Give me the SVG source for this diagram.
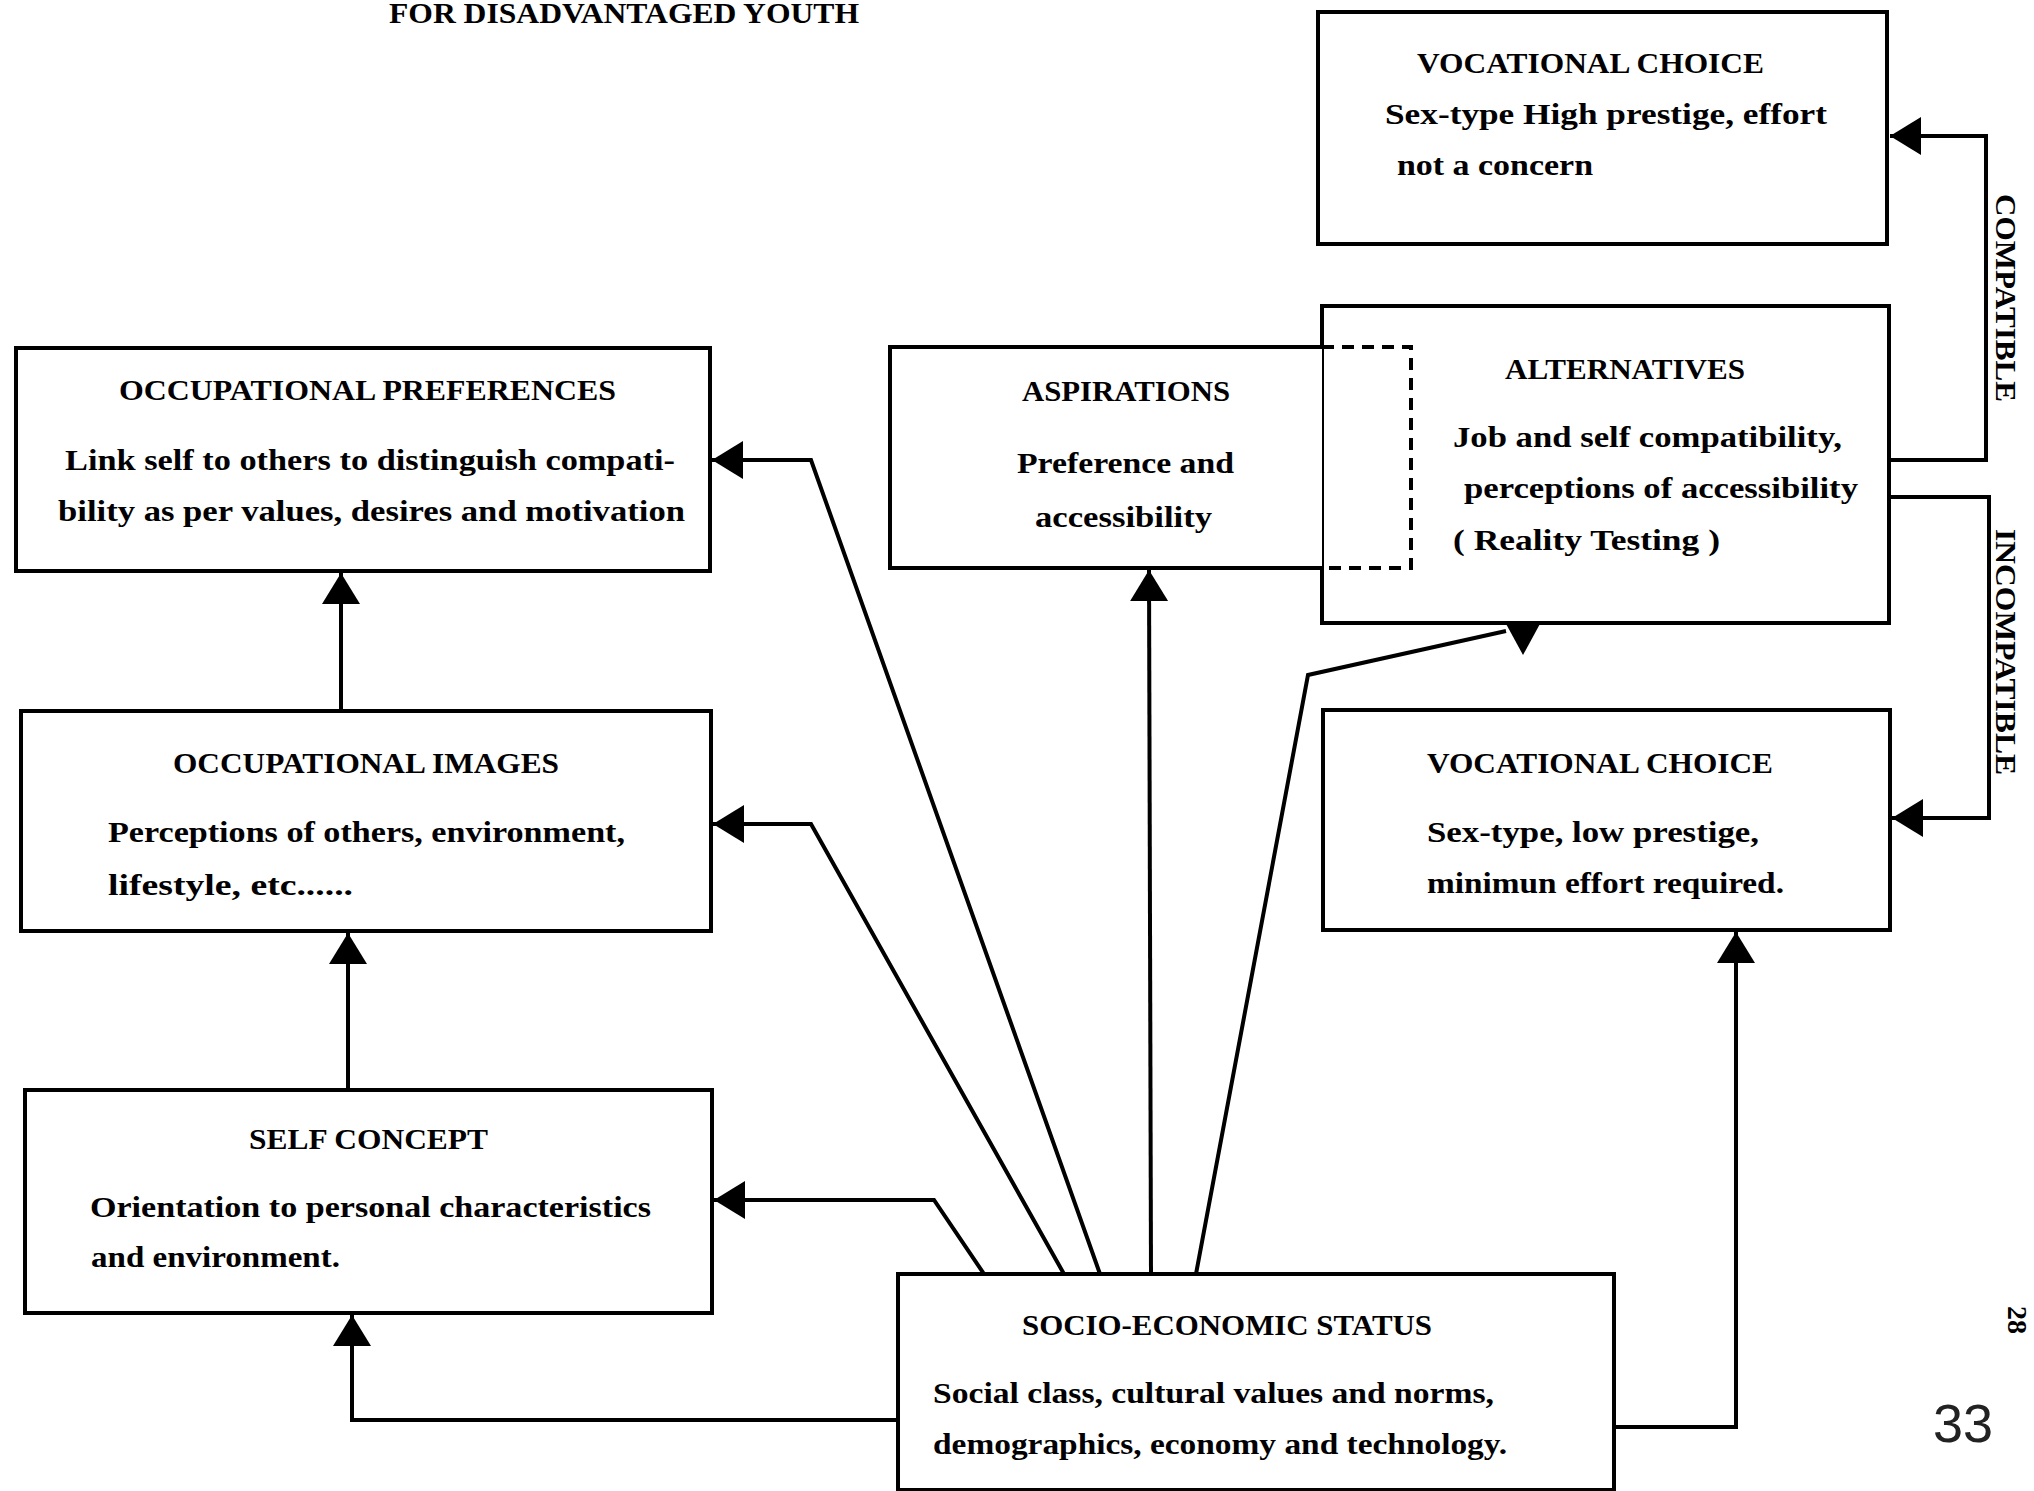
<svg xmlns="http://www.w3.org/2000/svg" width="2034" height="1491" viewBox="0 0 2034 1491">
<style>
.box{fill:#fff;stroke:#000;stroke-width:4}
.edge{fill:none;stroke:#000;stroke-width:4;stroke-linejoin:miter}
.dash{fill:none;stroke:#000;stroke-width:4;stroke-dasharray:12 8}
text{font-family:"Liberation Serif","DejaVu Serif",serif;font-weight:bold;fill:#000}
.h{font-size:29px}
.b{font-size:29px}
.lab{font-size:30px}
</style>
<defs>
<marker id="arr" markerUnits="userSpaceOnUse" markerWidth="34" markerHeight="40" refX="31" refY="19" orient="auto">
<path d="M0,0 L31,19 L0,38 Z" fill="#000"/>
</marker>
</defs>

<text x="389" y="23" font-size="30" textLength="470" lengthAdjust="spacingAndGlyphs">FOR DISADVANTAGED YOUTH</text>

<g id="connectors">
<path class="edge" d="M341,711 V573" marker-end="url(#arr)"/>
<path class="edge" d="M348,1090 V933" marker-end="url(#arr)"/>
<path class="edge" d="M898,1420 H352 V1315" marker-end="url(#arr)"/>
<path class="edge" d="M1614,1427 H1736 V932" marker-end="url(#arr)"/>
<path class="edge" d="M984,1274 L934,1200 H714" marker-end="url(#arr)"/>
<path class="edge" d="M1064,1274 L811,824 H713" marker-end="url(#arr)"/>
<path class="edge" d="M1100,1274 L811,460 H712" marker-end="url(#arr)"/>
<path class="edge" d="M1151,1274 L1149,570" marker-end="url(#arr)"/>
<path class="edge" d="M1196,1274 L1308,675 L1506,631"/>
<polygon points="1505,622 1541,622 1523,655" fill="#000"/>
<path class="edge" d="M1889,460 H1986 V136 H1890" marker-end="url(#arr)"/>
<path class="edge" d="M1889,497 H1989 V818 H1892" marker-end="url(#arr)"/>
<text class="lab" transform="translate(1996,298) rotate(90)" text-anchor="middle" textLength="208" lengthAdjust="spacingAndGlyphs">COMPATIBLE</text>
<text class="lab" transform="translate(1996,652) rotate(90)" text-anchor="middle" textLength="246" lengthAdjust="spacingAndGlyphs">INCOMPATIBLE</text>
</g>

<g id="vocational-choice-high">
<rect class="box" x="1318" y="12" width="569" height="232"/>
<text class="h" x="1417" y="73" textLength="347" lengthAdjust="spacingAndGlyphs">VOCATIONAL CHOICE</text>
<text class="b" x="1385" y="124" textLength="442" lengthAdjust="spacingAndGlyphs">Sex-type  High prestige, effort</text>
<text class="b" x="1397" y="175" textLength="196" lengthAdjust="spacingAndGlyphs">not a concern</text>
</g>

<g id="occupational-preferences">
<rect class="box" x="16" y="348" width="694" height="223"/>
<text class="h" x="119" y="400" textLength="497" lengthAdjust="spacingAndGlyphs">OCCUPATIONAL PREFERENCES</text>
<text class="b" x="65" y="470" textLength="610" lengthAdjust="spacingAndGlyphs">Link self to others to distinguish compati-</text>
<text class="b" x="58" y="521" textLength="627" lengthAdjust="spacingAndGlyphs">bility as per values, desires and  motivation</text>
</g>

<g id="alternatives">
<rect class="box" x="1322" y="306" width="567" height="317"/>
<text class="h" x="1505" y="379" textLength="240" lengthAdjust="spacingAndGlyphs">ALTERNATIVES</text>
<text class="b" x="1453" y="447" textLength="389" lengthAdjust="spacingAndGlyphs">Job and self compatibility,</text>
<text class="b" x="1464" y="498" textLength="394" lengthAdjust="spacingAndGlyphs">perceptions of accessibility</text>
<text class="b" x="1453" y="550" textLength="267" lengthAdjust="spacingAndGlyphs">( Reality Testing )</text>
</g>

<g id="aspirations">
<path class="box" d="M1322,347 H890 V568 H1322"/>
<path class="dash" d="M1322,347 H1411 V568 H1322"/>
<text class="h" x="1022" y="401" textLength="208" lengthAdjust="spacingAndGlyphs">ASPIRATIONS</text>
<text class="b" x="1017" y="473" textLength="217" lengthAdjust="spacingAndGlyphs">Preference and</text>
<text class="b" x="1035" y="527" textLength="177" lengthAdjust="spacingAndGlyphs">accessibility</text>
</g>

<g id="occupational-images">
<rect class="box" x="21" y="711" width="690" height="220"/>
<text class="h" x="173" y="773" textLength="386" lengthAdjust="spacingAndGlyphs">OCCUPATIONAL IMAGES</text>
<text class="b" x="108" y="842" textLength="517" lengthAdjust="spacingAndGlyphs">Perceptions of others, environment,</text>
<text class="b" x="108" y="895" textLength="245" lengthAdjust="spacingAndGlyphs">lifestyle, etc......</text>
</g>

<g id="vocational-choice-low">
<rect class="box" x="1323" y="710" width="567" height="220"/>
<text class="h" x="1427" y="773" textLength="346" lengthAdjust="spacingAndGlyphs">VOCATIONAL CHOICE</text>
<text class="b" x="1427" y="842" textLength="332" lengthAdjust="spacingAndGlyphs">Sex-type, low prestige,</text>
<text class="b" x="1427" y="893" textLength="357" lengthAdjust="spacingAndGlyphs">minimun effort required.</text>
</g>

<g id="self-concept">
<rect class="box" x="25" y="1090" width="687" height="223"/>
<text class="h" x="249" y="1149" textLength="239" lengthAdjust="spacingAndGlyphs">SELF CONCEPT</text>
<text class="b" x="90" y="1217" textLength="561" lengthAdjust="spacingAndGlyphs">Orientation to personal characteristics</text>
<text class="b" x="91" y="1267" textLength="249" lengthAdjust="spacingAndGlyphs">and environment.</text>
</g>

<g id="socio-economic-status">
<rect class="box" x="898" y="1274" width="716" height="216"/>
<text class="h" x="1022" y="1335" textLength="410" lengthAdjust="spacingAndGlyphs">SOCIO-ECONOMIC STATUS</text>
<text class="b" x="933" y="1403" textLength="561" lengthAdjust="spacingAndGlyphs">Social class, cultural values and norms,</text>
<text class="b" x="933" y="1454" textLength="574" lengthAdjust="spacingAndGlyphs">demographics, economy and technology.</text>
</g>

<text transform="translate(2008,1320) rotate(90)" text-anchor="middle" font-size="28">28</text>
<text x="1963" y="1442" text-anchor="middle" font-size="54" style="font-family:'Liberation Sans',sans-serif;font-weight:normal;fill:#222">33</text>
</svg>
